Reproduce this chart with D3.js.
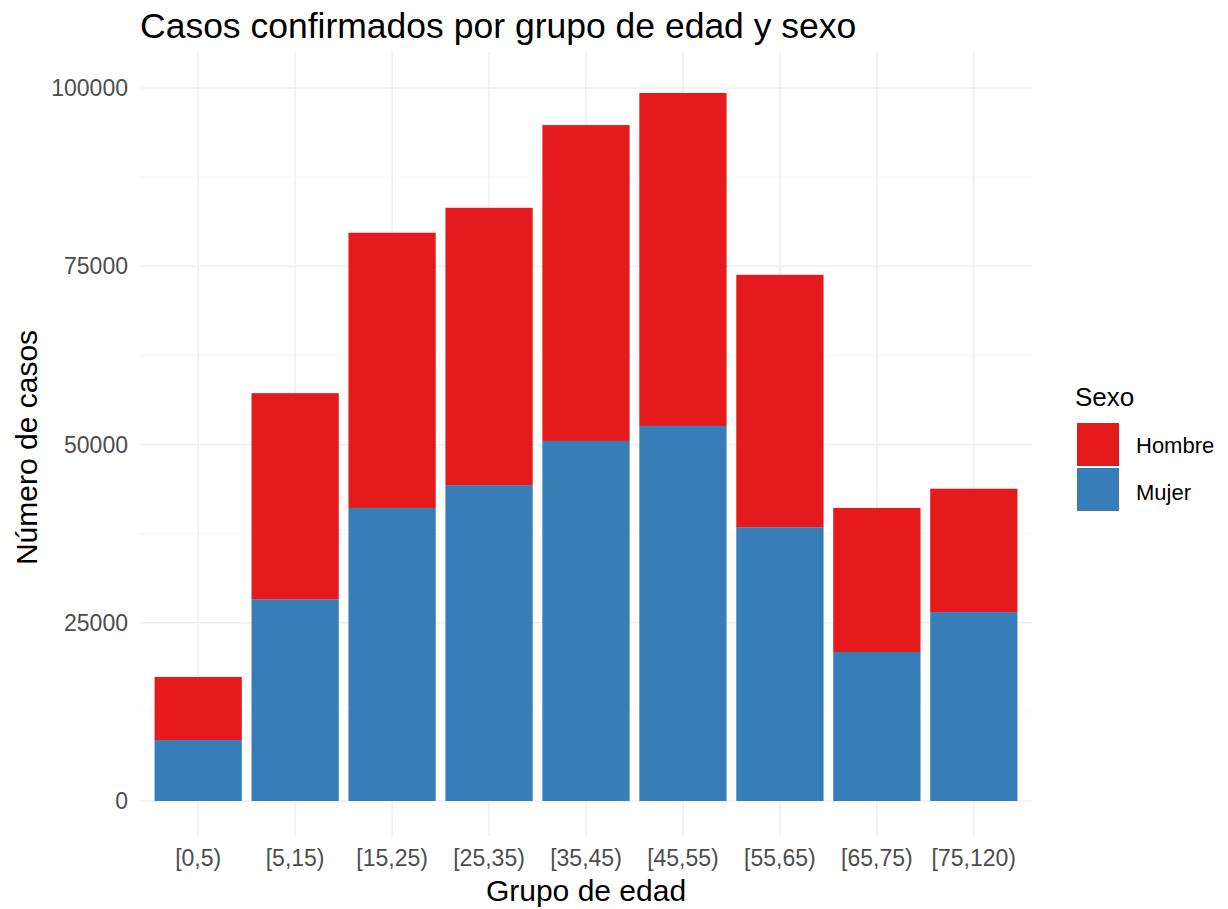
<!DOCTYPE html>
<html><head><meta charset="utf-8">
<script src="https://cdn.jsdelivr.net/npm/d3@7"></script>
<style>body{margin:0;background:#fff;} svg{display:block;font-family:"Liberation Sans",Arial,sans-serif;}</style>
</head><body>
<script>
const categories = ["[0,5)","[5,15)","[15,25)","[25,35)","[35,45)","[45,55)","[55,65)","[65,75)","[75,120)"];
const mujer  = [8550, 28300, 41100, 44300, 50500, 52600, 38400, 20900, 26500];
const hombre = [8850, 28900, 38600, 38900, 44300, 46700, 35400, 20200, 17300];
const seriesNames = ["Hombre","Mujer"];
const seriesColors = ["#E41A1C","#377EB8"];
const yTicks = [0, 25000, 50000, 75000, 100000];
const yMinor = [12500, 37500, 62500, 87500];

const W = 1228, H = 909;
const svg = d3.select("body").append("svg").attr("width", W).attr("height", H);

const panel = {left: 140, right: 1032, top: 52, bottom: 836};
const stepUnits = 9.2;
const step = (panel.right - panel.left)/stepUnits;
const xc = d3.scalePoint().domain(categories).range([panel.left + 0.6*step, panel.right - 0.6*step]);
const bw = step*0.9;
const y = d3.scaleLinear().domain([0, 100000]).range([801, 88]);

const grid = svg.append("g");
grid.selectAll(".minor").data(yMinor).join("line")
  .attr("x1", panel.left).attr("x2", panel.right)
  .attr("y1", d=>y(d)).attr("y2", d=>y(d))
  .attr("stroke", "#f6f6f6").attr("stroke-width", 1);
grid.selectAll(".major").data(yTicks).join("line")
  .attr("x1", panel.left).attr("x2", panel.right)
  .attr("y1", d=>y(d)).attr("y2", d=>y(d))
  .attr("stroke", "#efefef").attr("stroke-width", 1.5);
grid.selectAll(".vmajor").data(categories).join("line")
  .attr("x1", d=>xc(d)).attr("x2", d=>xc(d))
  .attr("y1", panel.top).attr("y2", panel.bottom)
  .attr("stroke", "#efefef").attr("stroke-width", 1.5);

const stackData = categories.map((c,i)=>({cat:c, Mujer:mujer[i], Hombre:hombre[i]}));
const stack = d3.stack().keys(["Mujer","Hombre"])(stackData);
const color = d3.scaleOrdinal().domain(seriesNames).range(seriesColors);

svg.append("g").selectAll("g").data(stack).join("g")
  .attr("fill", d=>color(d.key))
  .selectAll("rect").data(d=>d).join("rect")
  .attr("x", d=>xc(d.data.cat)-bw/2)
  .attr("width", bw)
  .attr("y", d=>y(d[1]))
  .attr("height", d=>y(d[0])-y(d[1]));

// y axis labels
svg.append("g").selectAll("text").data(yTicks).join("text")
  .attr("x", 128).attr("y", d=>y(d)).attr("dy","0.35em")
  .attr("text-anchor","end").attr("font-size", 23).attr("fill","#4d4d4d")
  .text(d=>d3.format("d")(d));

// x axis labels
svg.append("g").selectAll("text").data(categories).join("text")
  .attr("x", d=>xc(d)).attr("y", 858).attr("dy","0.35em")
  .attr("text-anchor","middle").attr("font-size", 23).attr("fill","#4d4d4d")
  .text(d=>d);

// axis titles
svg.append("text").attr("x", (panel.left+panel.right)/2).attr("y", 890).attr("dy","0.35em")
  .attr("text-anchor","middle").attr("font-size", 30).attr("fill","#000").text("Grupo de edad");
svg.append("text").attr("transform", `translate(26,${(88+801)/2+3}) rotate(-90)`).attr("dy","0.35em")
  .attr("text-anchor","middle").attr("font-size", 30).attr("fill","#000").text("Número de casos");

// title
svg.append("text").attr("x", 140).attr("y", 26).attr("dy","0.35em")
  .attr("font-size", 35.5).attr("fill","#000").text("Casos confirmados por grupo de edad y sexo");

// legend
const lg = svg.append("g");
lg.append("text").attr("x", 1075).attr("y", 397).attr("dy","0.35em")
  .attr("font-size", 26).attr("fill","#000").text("Sexo");
lg.selectAll("rect").data(seriesNames).join("rect")
  .attr("x", 1077).attr("y", (d,i)=>423 + i*45).attr("width", 42).attr("height", 43)
  .attr("fill", d=>color(d));
lg.selectAll(".lab").data(seriesNames).join("text")
  .attr("x", 1136).attr("y", (d,i)=>445 + i*47).attr("dy","0.35em")
  .attr("font-size", 22).attr("fill","#000").text(d=>d);
</script>
</body></html>
